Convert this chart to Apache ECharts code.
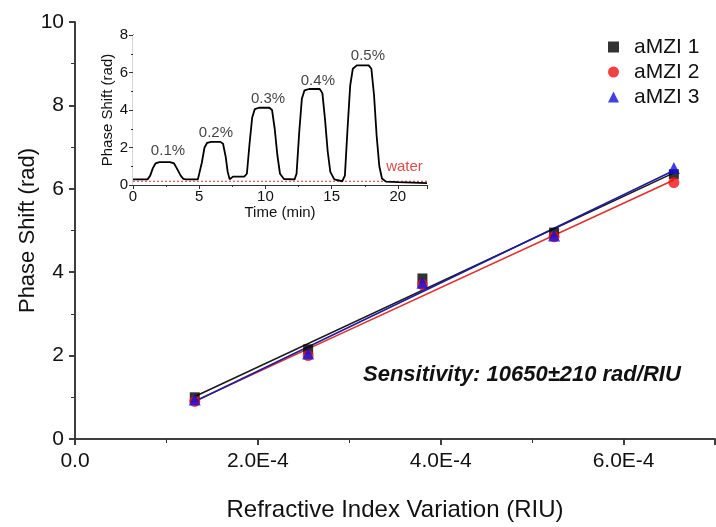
<!DOCTYPE html>
<html>
<head>
<meta charset="utf-8">
<script src="https://cdn.jsdelivr.net/npm/echarts@6/dist/echarts.min.js"></script>
<style>
  html, body { margin: 0; padding: 0; background: #fff; }
  #chart { width: 716px; height: 527px; }
</style>
</head>
<body>
<div id="chart"></div>
<script>
// Refractive index variation (RIU) for each test solution
const riu = [1.31e-4, 2.55e-4, 3.8e-4, 5.24e-4, 6.55e-4];
// Measured phase shift (rad) for each sensor
const amzi1 = [1.0, 2.15, 3.85, 4.95, 6.35];
const amzi2 = [0.9, 2.0, 3.7, 4.85, 6.15];
const amzi3 = [0.95, 2.05, 3.75, 4.88, 6.5];
const seriesNames = ['aMZI 1', 'aMZI 2', 'aMZI 3'];

// Inset: phase-shift trace over time
const traceTime = [0, 1.1, 1.3, 1.5, 1.7, 2.0, 2.8, 3.1, 3.3, 3.6, 3.8, 4.0, 4.9,
  5.0, 5.2, 5.4, 5.6, 5.9, 6.6, 6.8, 7.0, 7.15, 7.3, 7.45, 7.55, 8.4,
  8.6, 8.8, 9.0, 9.2, 9.5, 10.3, 10.5, 10.7, 10.9, 11.1, 11.4, 12.2,
  12.35, 12.55, 12.75, 12.95, 13.3, 14.1, 14.3, 14.5, 14.7, 14.9, 15.2, 15.8,
  16.0, 16.2, 16.4, 16.6, 16.9, 17.8, 18.0, 18.2, 18.4, 18.6, 18.8, 19.1, 20.0, 22.2];
const tracePhase = [0.3, 0.3, 0.5, 0.9, 1.15, 1.22, 1.22, 1.15, 0.9, 0.5, 0.33, 0.3, 0.3,
  0.35, 1.2, 2.0, 2.25, 2.3, 2.3, 2.2, 1.5, 0.7, 0.3, 0.25, 0.45, 0.45,
  0.6, 2.2, 3.6, 4.05, 4.12, 4.12, 4.0, 3.0, 1.6, 0.6, 0.32, 0.3,
  0.6, 2.8, 4.6, 5.05, 5.12, 5.12, 4.9, 3.5, 1.8, 0.7, 0.3, 0.2,
  0.5, 3.0, 5.3, 6.2, 6.38, 6.38, 6.2, 4.8, 2.6, 1.0, 0.35, 0.18, 0.15, 0.1];
const waterLevel = 0.2;
const concLabels = ['0.1%', '0.2%', '0.3%', '0.4%', '0.5%'];
const concLabelTime = [2.64, 6.26, 10.2, 13.96, 17.74];
const concLabelPhase = [1.8, 2.8, 4.62, 5.58, 6.9];
const waterLabel = { text: 'water', time: 20.5, phase: 0.95 };

const FONT = '"Liberation Sans", Arial, sans-serif';
const AXIS = '#333';

// least-squares line through each sensor's points, drawn across the data range
function fitLine(xs, ys) {
  const n = xs.length;
  const mx = xs.reduce((a, b) => a + b, 0) / n;
  const my = ys.reduce((a, b) => a + b, 0) / n;
  let sxy = 0, sxx = 0;
  for (let i = 0; i < n; i++) { sxy += (xs[i] - mx) * (ys[i] - my); sxx += (xs[i] - mx) ** 2; }
  const k = sxy / sxx, b = my - k * mx;
  const x0 = xs[0], x1 = xs[n - 1];
  return [[x0, k * x0 + b], [x1, k * x1 + b]];
}
const pts = ys => riu.map((x, i) => [x, ys[i]]);

function sciLabel(v) {
  if (Math.abs(v) < 1e-12) return '0.0';
  return v.toExponential(1).toUpperCase();
}

const axisLine = { show: true, lineStyle: { color: AXIS, width: 1.5 } };

const chart = echarts.init(document.getElementById('chart'), null, { renderer: 'canvas' });
chart.setOption({
  animation: false,
  backgroundColor: '#fff',
  grid: [
    { left: 75, top: 22, right: 1, bottom: 88 },
    { left: 133, top: 35, width: 294, height: 150, show: true, backgroundColor: '#fff', borderWidth: 0, z: 5 }
  ],
  legend: {
    data: [
      { name: seriesNames[0], icon: 'rect' },
      { name: seriesNames[1], icon: 'circle' },
      { name: seriesNames[2], icon: 'triangle' }
    ],
    orient: 'vertical', left: 603, top: 31,
    itemWidth: 11, itemHeight: 11, itemGap: 3,
    textStyle: { fontFamily: FONT, fontSize: 21, lineHeight: 22, color: '#111', padding: [0, 0, 0, 10] }
  },
  xAxis: [
    { gridIndex: 0, type: 'value', min: 0, max: 7e-4, interval: 2e-4,
      name: 'Refractive Index Variation (RIU)', nameLocation: 'middle', nameGap: 59,
      nameTextStyle: { fontFamily: FONT, fontSize: 24, color: '#111' },
      axisLine, axisTick: { show: true, length: 6, lineStyle: { color: AXIS, width: 1.5 } },
      minorTick: { show: true, splitNumber: 2, length: 4, lineStyle: { color: AXIS } },
      splitLine: { show: false },
      axisLabel: { fontFamily: FONT, fontSize: 21, color: '#111', margin: 12, formatter: sciLabel, showMaxLabel: false } },
    { gridIndex: 0, type: 'value', position: 'top', min: 0, max: 7e-4, interval: 2e-4,
      axisLine, axisTick: { show: true, inside: true, length: 6, lineStyle: { color: AXIS, width: 1.5 } },
      minorTick: { show: true, splitNumber: 2, length: 4, lineStyle: { color: AXIS } },
      splitLine: { show: false }, axisLabel: { show: false } },
    { gridIndex: 1, type: 'value', min: 0, max: 22.2, interval: 5,
      name: 'Time (min)', nameLocation: 'middle', nameGap: 19,
      nameTextStyle: { fontFamily: FONT, fontSize: 15, color: '#111' },
      axisLine: { show: true, lineStyle: { color: AXIS, width: 1.2 } },
      axisTick: { show: true, length: 4, lineStyle: { color: AXIS } },
      minorTick: { show: true, splitNumber: 2, length: 2, lineStyle: { color: AXIS } },
      splitLine: { show: false },
      axisLabel: { fontFamily: FONT, fontSize: 15, color: '#111', margin: 4,
        formatter: v => (Math.abs(v % 5) < 1e-9 ? String(v) : '') } },
    { gridIndex: 1, type: 'value', position: 'top', min: 0, max: 22.2, interval: 5,
      axisLine: { show: true, lineStyle: { color: AXIS, width: 1.2 } },
      axisTick: { show: true, inside: true, length: 4, lineStyle: { color: AXIS } },
      minorTick: { show: true, splitNumber: 2, length: 2, lineStyle: { color: AXIS } },
      splitLine: { show: false }, axisLabel: { show: false } }
  ],
  yAxis: [
    { gridIndex: 0, type: 'value', min: 0, max: 10, interval: 2,
      name: 'Phase Shift (rad)', nameLocation: 'middle', nameGap: 36, nameMoveOverlap: false,
      nameTextStyle: { fontFamily: FONT, fontSize: 22, color: '#111' },
      axisLine, axisTick: { show: true, length: 6, lineStyle: { color: AXIS, width: 1.5 } },
      minorTick: { show: true, splitNumber: 2, length: 4, lineStyle: { color: AXIS } },
      splitLine: { show: false },
      axisLabel: { fontFamily: FONT, fontSize: 21, color: '#111', margin: 11 } },
    { gridIndex: 0, type: 'value', position: 'right', min: 0, max: 10, interval: 2,
      axisLine, axisTick: { show: true, inside: true, length: 6, lineStyle: { color: AXIS, width: 1.5 } },
      minorTick: { show: true, splitNumber: 2, length: 4, lineStyle: { color: AXIS } },
      splitLine: { show: false }, axisLabel: { show: false } },
    { gridIndex: 1, type: 'value', min: 0, max: 8, interval: 2,
      name: 'Phase Shift (rad)', nameLocation: 'middle', nameGap: 18,
      nameTextStyle: { fontFamily: FONT, fontSize: 15, color: '#111' },
      axisLine: { show: true, lineStyle: { color: AXIS, width: 1.2 } },
      axisTick: { show: true, length: 4, lineStyle: { color: AXIS } },
      minorTick: { show: true, splitNumber: 2, length: 2, lineStyle: { color: AXIS } },
      splitLine: { show: false },
      axisLabel: { fontFamily: FONT, fontSize: 15, color: '#111', margin: 5 } },
    { gridIndex: 1, type: 'value', position: 'right', min: 0, max: 8, interval: 2,
      axisLine: { show: true, lineStyle: { color: AXIS, width: 1.2 } },
      axisTick: { show: true, inside: true, length: 4, lineStyle: { color: AXIS } },
      minorTick: { show: true, splitNumber: 2, length: 2, lineStyle: { color: AXIS } },
      splitLine: { show: false }, axisLabel: { show: false } }
  ],
  graphic: [{
    type: 'text', left: 363, top: 364, z: 20,
    style: { text: 'Sensitivity: 10650±210 rad/RIU', font: 'italic bold 22px "Liberation Sans", Arial, sans-serif', fill: '#111' }
  }],
  series: [
    { type: 'line', xAxisIndex: 0, yAxisIndex: 0, data: fitLine(riu, amzi1), showSymbol: false, symbol: 'none',
      lineStyle: { color: '#1a1a1a', width: 1.6 }, z: 2, silent: true },
    { type: 'line', xAxisIndex: 0, yAxisIndex: 0, data: fitLine(riu, amzi2), showSymbol: false, symbol: 'none',
      lineStyle: { color: '#e0302a', width: 1.6 }, z: 2, silent: true },
    { type: 'line', xAxisIndex: 0, yAxisIndex: 0, data: fitLine(riu, amzi3), showSymbol: false, symbol: 'none',
      lineStyle: { color: '#1c1ca0', width: 1.6 }, z: 2, silent: true },
    { name: seriesNames[0], type: 'scatter', xAxisIndex: 0, yAxisIndex: 0, data: pts(amzi1),
      symbol: 'rect', symbolSize: 10, itemStyle: { color: '#000' }, z: 3 },
    { name: seriesNames[1], type: 'scatter', xAxisIndex: 0, yAxisIndex: 0, data: pts(amzi2),
      symbol: 'circle', symbolSize: 11, itemStyle: { color: '#f01010' }, z: 3 },
    { name: seriesNames[2], type: 'scatter', xAxisIndex: 0, yAxisIndex: 0, data: pts(amzi3),
      symbol: 'triangle', symbolSize: 12, itemStyle: { color: '#1010e0' }, z: 3 },
    // inset
    { type: 'line', xAxisIndex: 2, yAxisIndex: 2, data: [[0, waterLevel], [22.2, waterLevel]],
      symbol: 'none', lineStyle: { color: '#d03030', width: 1, type: [2, 2] }, z: 6, silent: true },
    { type: 'line', xAxisIndex: 2, yAxisIndex: 2, data: traceTime.map((t, i) => [t, tracePhase[i]]),
      symbol: 'none', lineStyle: { color: '#000', width: 1.8 }, z: 7, silent: true },
    { type: 'scatter', xAxisIndex: 2, yAxisIndex: 2, symbolSize: 0, z: 8, silent: true,
      data: concLabels.map((s, i) => ({ value: [concLabelTime[i], concLabelPhase[i]], label: { formatter: s } })),
      label: { show: true, position: 'inside', fontFamily: FONT, fontSize: 15, color: '#111' } },
    { type: 'scatter', xAxisIndex: 2, yAxisIndex: 2, symbolSize: 0, z: 8, silent: true,
      data: [[waterLabel.time, waterLabel.phase]],
      label: { show: true, position: 'inside', formatter: waterLabel.text, fontFamily: FONT, fontSize: 15, color: '#d02020' } }
  ]
});
</script>
</body>
</html>
